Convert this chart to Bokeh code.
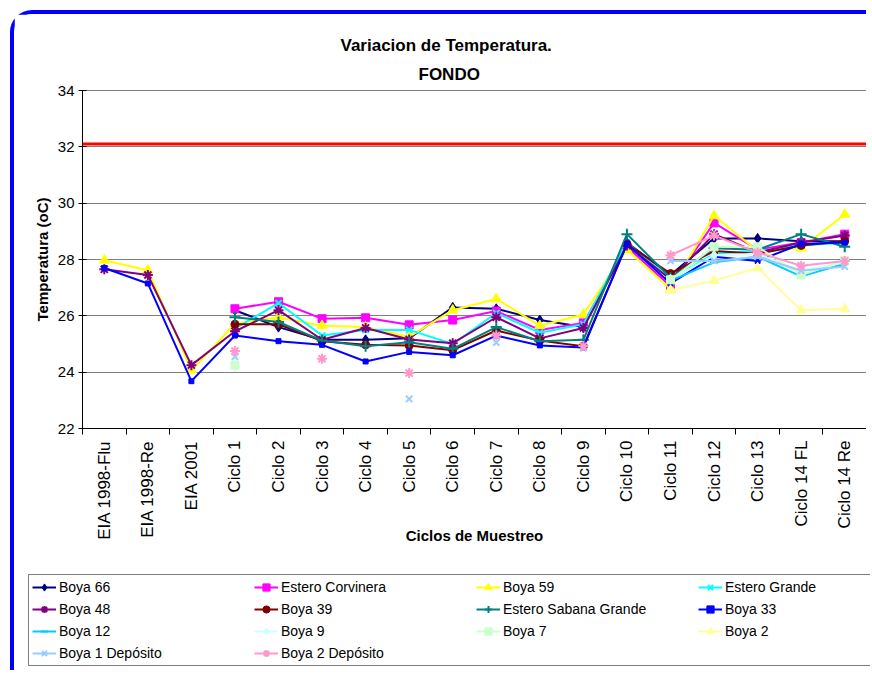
import math
from bokeh.plotting import figure
from bokeh.models import Range1d, FixedTicker, Span, Legend, LegendItem, Title
from bokeh.embed import file_html
from bokeh.resources import INLINE

nan = float("nan")

categories = ["EIA 1998-Flu", "EIA 1998-Re", "EIA 2001", "Ciclo 1", "Ciclo 2", "Ciclo 3",
              "Ciclo 4", "Ciclo 5", "Ciclo 6", "Ciclo 7", "Ciclo 8", "Ciclo 9", "Ciclo 10",
              "Ciclo 11", "Ciclo 12", "Ciclo 13", "Ciclo 14 FL", "Ciclo 14 Re"]
y_ticks = [22, 24, 26, 28, 30, 32, 34]
limit_value = 32.1

boya_66 = [nan, nan, nan, 26.2, 25.6, 25.15, 25.15, 25.2, 26.3, 26.25, 25.85, 25.6, 28.6, 27.45, 28.75, 28.75, 28.65, 28.65]
estero_corvinera = [nan, nan, nan, 26.25, 26.5, 25.9, 25.93, 25.68, 25.85, 26.17, 25.5, 25.75, 28.45, 27.05, 29.3, 28.35, 28.6, 28.9]
boya_59 = [27.97, 27.62, 24.07, 25.72, 25.95, 25.65, 25.6, 25.25, 26.2, 26.6, 25.65, 26.05, 28.35, 26.95, 29.55, 28.3, 28.4, 29.6]
estero_grande = [nan, nan, nan, 25.55, 26.45, 25.3, 25.5, 25.5, 25.0, 26.1, 25.4, 25.7, 28.6, 27.3, 28.2, 28.3, 28.5, 28.6]
boya_48 = [27.65, 27.45, 24.25, 25.45, 26.2, 25.15, 25.57, 25.16, 25.03, 25.95, 25.2, 25.57, 28.5, 27.3, 28.9, 28.25, 28.6, 28.85]
boya_39 = [nan, nan, nan, 25.7, 25.7, 25.1, 24.97, 24.95, 24.78, 25.48, 25.12, 24.92, 28.55, 27.5, 28.3, 28.2, 28.5, 28.65]
estero_sabana_grande = [nan, nan, nan, 25.95, 25.78, 25.12, 24.92, 25.06, 24.83, 25.6, 25.1, 25.15, 28.9, 27.35, 28.4, 28.35, 28.9, 28.45]
boya_33 = [27.7, 27.15, 23.68, 25.3, 25.1, 24.97, 24.38, 24.72, 24.6, 25.3, 24.95, 24.88, 28.55, 27.15, 28.1, 27.95, 28.55, 28.6]
boya_12 = [nan, nan, nan, nan, nan, nan, nan, nan, nan, nan, nan, nan, nan, 27.25, 27.9, 28.1, 27.4, 27.85]
boya_9 = [nan, nan, nan, 24.2, nan, nan, nan, nan, nan, nan, nan, nan, nan, 27.3, 28.15, 28.2, 27.6, 27.9]
boya_7 = [nan, nan, nan, 24.25, nan, nan, nan, nan, nan, nan, nan, nan, nan, 27.28, 28.45, 28.45, 27.45, 27.97]
boya_2 = [nan, nan, nan, nan, nan, nan, nan, nan, nan, nan, nan, nan, nan, 26.9, 27.25, 27.7, 26.2, 26.25]
boya_1_deposito = [nan, nan, nan, 24.55, nan, nan, nan, 23.05, nan, 25.05, nan, 24.85, nan, 27.95, 27.95, 28.1, 27.6, 27.75]
boya_2_deposito = [nan, nan, nan, 24.75, nan, 24.48, nan, 23.97, nan, 25.3, nan, 24.93, nan, 28.15, 28.85, 28.25, 27.78, 27.95]

series = [
    ("Boya 66", boya_66, "#000080", "diamond", 10),
    ("Estero Corvinera", estero_corvinera, "#FF00FF", "square", 8),
    ("Boya 59", boya_59, "#FFFF00", "triangle", 10),
    ("Estero Grande", estero_grande, "#00FFFF", "x", 9),
    ("Boya 48", boya_48, "#800080", "asterisk", 10),
    ("Boya 39", boya_39, "#800000", "circle", 8),
    ("Estero Sabana Grande", estero_sabana_grande, "#008080", "cross", 11),
    ("Boya 33", boya_33, "#0000FF", "square", 5),
    ("Boya 12", boya_12, "#00CCFF", "dash", 8),
    ("Boya 9", boya_9, "#CCFFFF", "diamond", 10),
    ("Boya 7", boya_7, "#CCFFCC", "square", 8),
    ("Boya 2", boya_2, "#FFFF99", "triangle", 10),
    ("Boya 1 Depósito", boya_1_deposito, "#99CCFF", "x", 9),
    ("Boya 2 Depósito", boya_2_deposito, "#FF99CC", "asterisk", 10),
]

FONT = "Liberation Sans"

x_idx = list(range(len(categories)))

p = figure(width=856, height=560, x_range=Range1d(-0.5, len(categories) - 0.5),
           y_range=Range1d(y_ticks[0], y_ticks[-1]), title=None,
           output_backend="svg", toolbar_location=None,
           min_border_left=68, min_border_right=4, min_border_top=76, min_border_bottom=146)
p.margin = (10, 0, 0, 10)
p.styles = {"border-left": "4px solid #0000FF", "border-top": "4px solid #0000FF",
            "border-top-left-radius": "22px"}
p.background_fill_color = "white"
p.border_fill_color = "white"
p.outline_line_color = "#808080"

# Axes
xa = p.xaxis[0]
xa.ticker = FixedTicker(ticks=x_idx, minor_ticks=[i - 0.5 for i in range(len(categories) + 1)])
xa.major_label_overrides = {i: c for i, c in enumerate(categories)}
xa.major_tick_line_color = None
xa.minor_tick_line_color = "black"
xa.minor_tick_in = 0
xa.minor_tick_out = 6
xa.major_label_orientation = math.pi / 2
xa.major_label_standoff = 6
xa.major_label_text_font = FONT
xa.major_label_text_font_size = "17px"
xa.major_label_text_color = "black"
xa.axis_line_color = "black"
xa.axis_label = "Ciclos de Muestreo"
xa.axis_label_text_font = FONT
xa.axis_label_text_font_style = "bold"
xa.axis_label_text_font_size = "15px"
xa.axis_label_text_color = "black"
xa.axis_label_standoff = -16

ya = p.yaxis[0]
ya.ticker = FixedTicker(ticks=y_ticks, minor_ticks=[])
ya.major_tick_in = 4
ya.major_tick_out = 4
ya.major_label_standoff = 4
ya.major_label_text_font = FONT
ya.major_label_text_font_size = "15px"
ya.major_label_text_color = "black"
ya.axis_line_color = "black"
ya.axis_label = "Temperatura (oC)"
ya.axis_label_text_font = FONT
ya.axis_label_text_font_size = "15px"
ya.axis_label_text_font_style = "bold"
ya.axis_label_text_color = "black"
ya.axis_label_standoff = 4

p.xgrid.visible = False
p.ygrid.ticker = FixedTicker(ticks=y_ticks)
p.ygrid.grid_line_color = "#808080"
p.ygrid.grid_line_width = 1

p.add_layout(Span(location=limit_value, dimension="width", line_color="#FF0000", line_width=3))


def draw_series(fig, xs, vals, color, marker, size):
    lr = fig.line(xs, vals, line_color=color, line_width=2)
    if marker in ("x", "asterisk", "cross", "dash"):
        sr = fig.scatter(xs, vals, marker=marker, size=size, line_color=color, line_width=2)
    else:
        sr = fig.scatter(xs, vals, marker=marker, size=size, fill_color=color, line_color=color)
    return lr, sr


for name, vals, color, marker, size in series:
    draw_series(p, x_idx, vals, color, marker, size)

# Titles
p.add_layout(Title(text="FONDO", align="left", offset=336, standoff=14, text_color="black",
                   text_font=FONT, text_font_style="bold", text_font_size="17px"), "above")
p.add_layout(Title(text="Variacion de Temperatura.", align="left", offset=258, standoff=2,
                   text_color="black", text_font=FONT, text_font_style="bold",
                   text_font_size="17px"), "above")

# Legend panel: a second root placed directly below the chart
lg = figure(width=856, height=100, x_range=Range1d(0, 1), y_range=Range1d(0, 1),
            output_backend="svg", toolbar_location=None, title=None,
            x_axis_location=None, y_axis_location=None,
            min_border_left=0, min_border_right=0, min_border_top=0, min_border_bottom=0)
lg.margin = (0, 0, 0, 10)
lg.styles = {"border-left": "4px solid #0000FF"}
lg.outline_line_color = None
lg.xgrid.visible = False
lg.ygrid.visible = False
lg.background_fill_color = "white"
lg.border_fill_color = "white"

# legend proxies: one point far outside the legend panel's visible range
proxy_x = [-50.0]
proxy_y = [-50.0]
items = []
for name, vals, color, marker, size in series:
    lr, sr = draw_series(lg, proxy_x, proxy_y, color, marker, size)
    items.append(LegendItem(label=name, renderers=[lr, sr]))

legend = Legend(items=items, location=(14, 4), orientation="horizontal", ncols=4,
                border_line_color="black", border_line_width=1, padding=3, spacing=4,
                margin=0, label_standoff=3, glyph_width=24, glyph_height=18,
                label_height=18, label_width=191, label_text_font=FONT,
                label_text_font_size="14px", label_text_color="black",
                background_fill_color="white")
lg.add_layout(legend)

open("out.html", "w").write(file_html([p, lg], INLINE))
